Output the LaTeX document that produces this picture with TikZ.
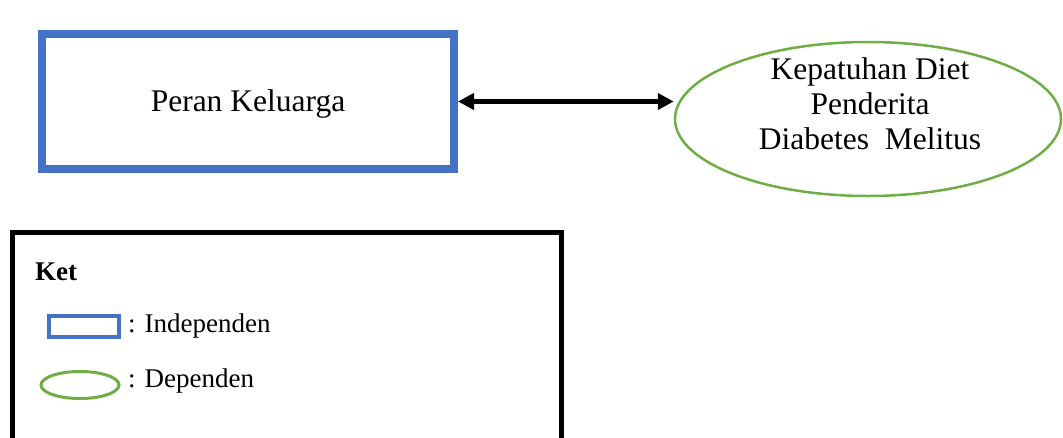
\documentclass[tikz,border=0pt]{standalone}
\usepackage{fontspec}
\setmainfont{Liberation Serif}
\usetikzlibrary{arrows.meta,shapes.geometric}
\definecolor{indblue}{HTML}{4472C4}
\definecolor{depgreen}{HTML}{70AD47}
\tikzset{
  indbox/.style={draw=indblue, line width=#1, rectangle, inner sep=0pt},
  depell/.style={draw=depgreen, line width=#1, ellipse, inner sep=0pt},
  maintext/.style={font=\fontsize{31.5}{35}\selectfont, align=center},
  legtext/.style={font=\fontsize{27}{30}\selectfont, anchor=west, inner sep=0pt},
  link/.style={line width=4.5pt, {Triangle[length=16pt,width=16pt]}-{Triangle[length=16pt,width=16pt]}}
}
\begin{document}
\begin{tikzpicture}[x=1pt,y=-1pt]
\useasboundingbox (0,0) rectangle (1063,437);
% main rectangle
\node[indbox=8pt, minimum width=412pt, minimum height=135pt] (peran) at (248,101.5) {};
\node[maintext] (peranText) at (248,104) {Peran Keluarga};
% ellipse
\node[depell=2.5pt, minimum width=386pt, minimum height=154pt] (kep) at (868,119) {};
\node[maintext] (kepText) at (870,104) {Kepatuhan Diet\\Penderita\\Diabetes\ \ Melitus};
% connector
\draw[link] (peran.east) -- (kep.west |- peran.east);
% legend
\draw[line width=5.5pt] (12.5,445) -- (12.5,232.5) -- (561.5,232.5) -- (561.5,445);
\node[legtext, font=\fontsize{27}{30}\selectfont\bfseries] (ket) at (35,272) {Ket};
\node[indbox=4pt, minimum width=70pt, minimum height=21pt] (legRect) at (84,326.5) {};
\node[legtext] (legInd) at (128,326) {: Independen};
\node[depell=3pt, minimum width=78pt, minimum height=27pt] (legEll) at (80,385) {};
\node[legtext] (legDep) at (128,381) {: Dependen};
\end{tikzpicture}
\end{document}
